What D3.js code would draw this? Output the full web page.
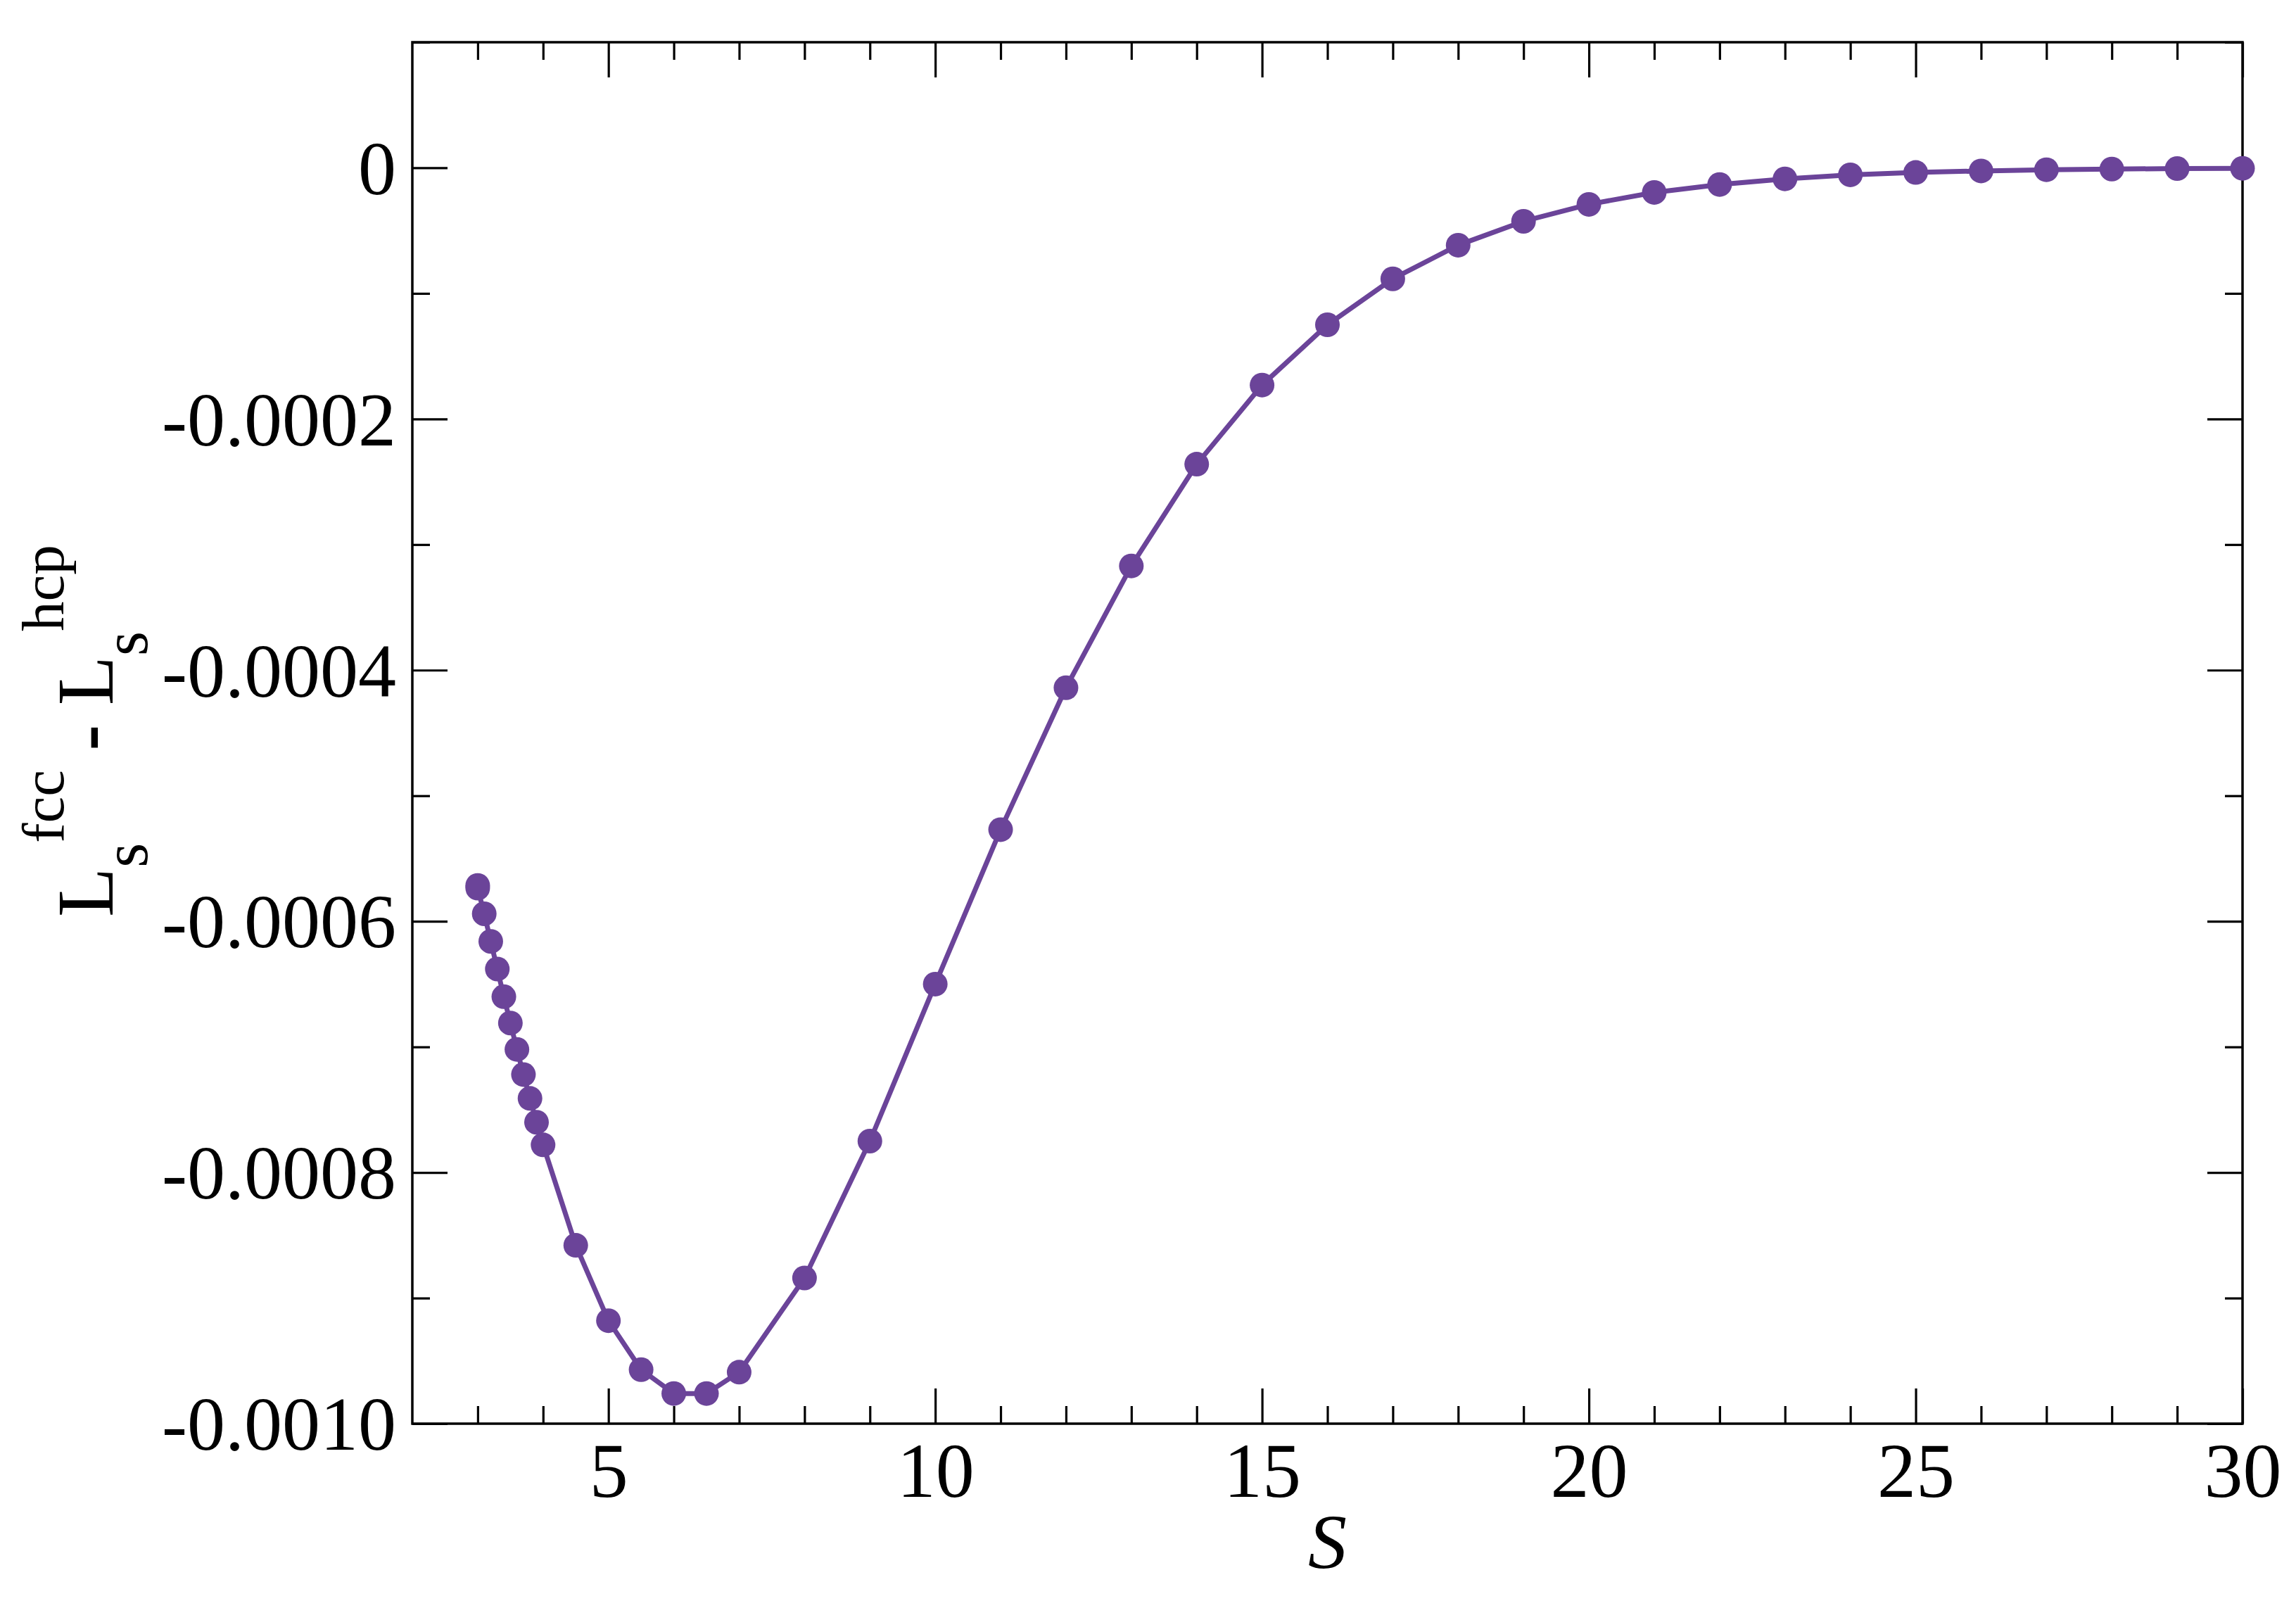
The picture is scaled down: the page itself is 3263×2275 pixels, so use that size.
<!DOCTYPE html>
<meta charset="utf-8">
<style>
html, body { margin: 0; padding: 0; background: #fff; }
svg { display: block; }
.tick text { font-family: "Liberation Serif", "Times New Roman", serif; fill: #000; }
.tick line { stroke: #000; stroke-width: 3.2; }
</style>
<svg id="chart" width="3263" height="2275"></svg>
<script src="https://cdn.jsdelivr.net/npm/d3@7"></script>
<script>
// S values (x) and L_s^fcc - L_s^hcp (y)
var sValues = [3.0, 3.0, 3.1, 3.2, 3.3, 3.4, 3.5, 3.6, 3.7, 3.8, 3.9, 4.0,
  4.5, 5.0, 5.5, 6.0, 6.5, 7.0, 8, 9, 10, 11, 12, 13, 14, 15, 16, 17, 18, 19,
  20, 21, 22, 23, 24, 25, 26, 27, 28, 29, 30]
var diffValues = [-0.0005714, -0.0005736, -0.000594, -0.000616, -0.000638, -0.000660,
  -0.000681, -0.000702, -0.000722, -0.000741, -0.000760, -0.000778,
  -0.000858, -0.000918, -0.000957, -0.000976, -0.000976, -0.000959,
  -0.000884, -0.000775, -0.000650, -0.000527, -0.000414, -0.000317,
  -0.000236, -0.000173, -0.000125, -0.0000884, -0.0000616, -0.0000426,
  -0.0000291, -0.0000196, -0.0000133, -0.0000088, -0.0000056, -0.0000037,
  -0.0000025, -0.0000015, -0.0000010, -0.0000006, -0.0000004]

var xMajor = [5, 10, 15, 20, 25, 30]
var xMinor = d3.range(3, 30, 1).filter(function(v){ return v % 5 !== 0 })
var yMajor = [0, -0.0002, -0.0004, -0.0006, -0.0008, -0.0010]
var yMinor = [0.0001, -0.0001, -0.0003, -0.0005, -0.0007, -0.0009]
var yLabels = ["0", "-0.0002", "-0.0004", "-0.0006", "-0.0008", "-0.0010"]

var color = "#6b4499"
var pLeft = 586, pRight = 3187, pTop = 60, pBottom = 2023

var svg = d3.select("#chart")
svg.append("rect").attr("width", 3263).attr("height", 2275).attr("fill", "#fff")

var x = d3.scaleLinear().domain([2, 30]).range([pLeft, pRight])
var y = d3.scaleLinear().domain([-0.0010, 0.0001]).range([pBottom, pTop])

function noDomain(g){ g.select(".domain").remove() }

// bottom axis: labels + inward ticks
svg.append("g").attr("transform", "translate(0," + pBottom + ")")
  .call(d3.axisBottom(x).tickValues(xMajor).tickSize(-50).tickPadding(26).tickFormat(d3.format("d")))
  .call(noDomain)
  .selectAll("text").style("font-size", "110px")
svg.append("g").attr("transform", "translate(0," + pBottom + ")")
  .call(d3.axisBottom(x).tickValues(xMinor).tickSize(-25).tickFormat(""))
  .call(noDomain)

// top axis: ticks only
svg.append("g").attr("transform", "translate(0," + pTop + ")")
  .call(d3.axisTop(x).tickValues(xMajor).tickSize(-50).tickFormat(""))
  .call(noDomain)
svg.append("g").attr("transform", "translate(0," + pTop + ")")
  .call(d3.axisTop(x).tickValues(xMinor).tickSize(-25).tickFormat(""))
  .call(noDomain)

// left axis
svg.append("g").attr("transform", "translate(" + pLeft + ",0)")
  .call(d3.axisLeft(y).tickValues(yMajor).tickSize(-50).tickPadding(23)
    .tickFormat(function(d, i){ return yLabels[i] }))
  .call(noDomain)
  .selectAll("text").style("font-size", "108px").attr("dy", "0.34em")
svg.append("g").attr("transform", "translate(" + pLeft + ",0)")
  .call(d3.axisLeft(y).tickValues(yMinor).tickSize(-25).tickFormat(""))
  .call(noDomain)

// right axis
svg.append("g").attr("transform", "translate(" + pRight + ",0)")
  .call(d3.axisRight(y).tickValues(yMajor).tickSize(-50).tickFormat(""))
  .call(noDomain)
svg.append("g").attr("transform", "translate(" + pRight + ",0)")
  .call(d3.axisRight(y).tickValues(yMinor).tickSize(-25).tickFormat(""))
  .call(noDomain)

// frame
svg.append("rect")
  .attr("x", pLeft).attr("y", pTop)
  .attr("width", pRight - pLeft).attr("height", pBottom - pTop)
  .attr("fill", "none").attr("stroke", "#000").attr("stroke-width", 3.5)

// data
var pts = sValues.map(function(s, i){ return [s, diffValues[i]] })
var line = d3.line().x(function(d){ return x(d[0]) }).y(function(d){ return y(d[1]) })

svg.append("path")
  .datum(pts)
  .attr("d", line)
  .attr("fill", "none")
  .attr("stroke", color)
  .attr("stroke-width", 7)
  .attr("stroke-linejoin", "round")

svg.append("g").selectAll("circle")
  .data(pts)
  .enter().append("circle")
    .attr("cx", function(d){ return x(d[0]) })
    .attr("cy", function(d){ return y(d[1]) })
    .attr("r", 17.5)
    .attr("fill", color)

// x label
svg.append("text")
  .attr("x", (pLeft + pRight) / 2).attr("y", 2228)
  .attr("text-anchor", "middle")
  .style("font-family", "'Liberation Serif', serif")
  .style("font-style", "italic")
  .style("font-size", "110px")
  .text("S")

// y label: L_s^fcc - L_s^hcp, rotated
var yl = svg.append("text")
  .attr("transform", "translate(160,1303) rotate(-90)")
  .style("font-family", "'Liberation Serif', serif")
  .style("font-size", "115px")
yl.append("tspan").text("L")
yl.append("tspan").attr("dy", 49).style("font-size", "90px").text("s")
yl.append("tspan").attr("dy", -119).style("font-size", "85px").text("fcc")
yl.append("tspan").attr("dy", 70).style("font-size", "110px").style("font-weight", "bold").text("\u00a0-\u00a0")
yl.append("tspan").text("L")
yl.append("tspan").attr("dy", 49).style("font-size", "90px").text("s")
yl.append("tspan").attr("dy", -119).style("font-size", "85px").text("hcp")
</script>
